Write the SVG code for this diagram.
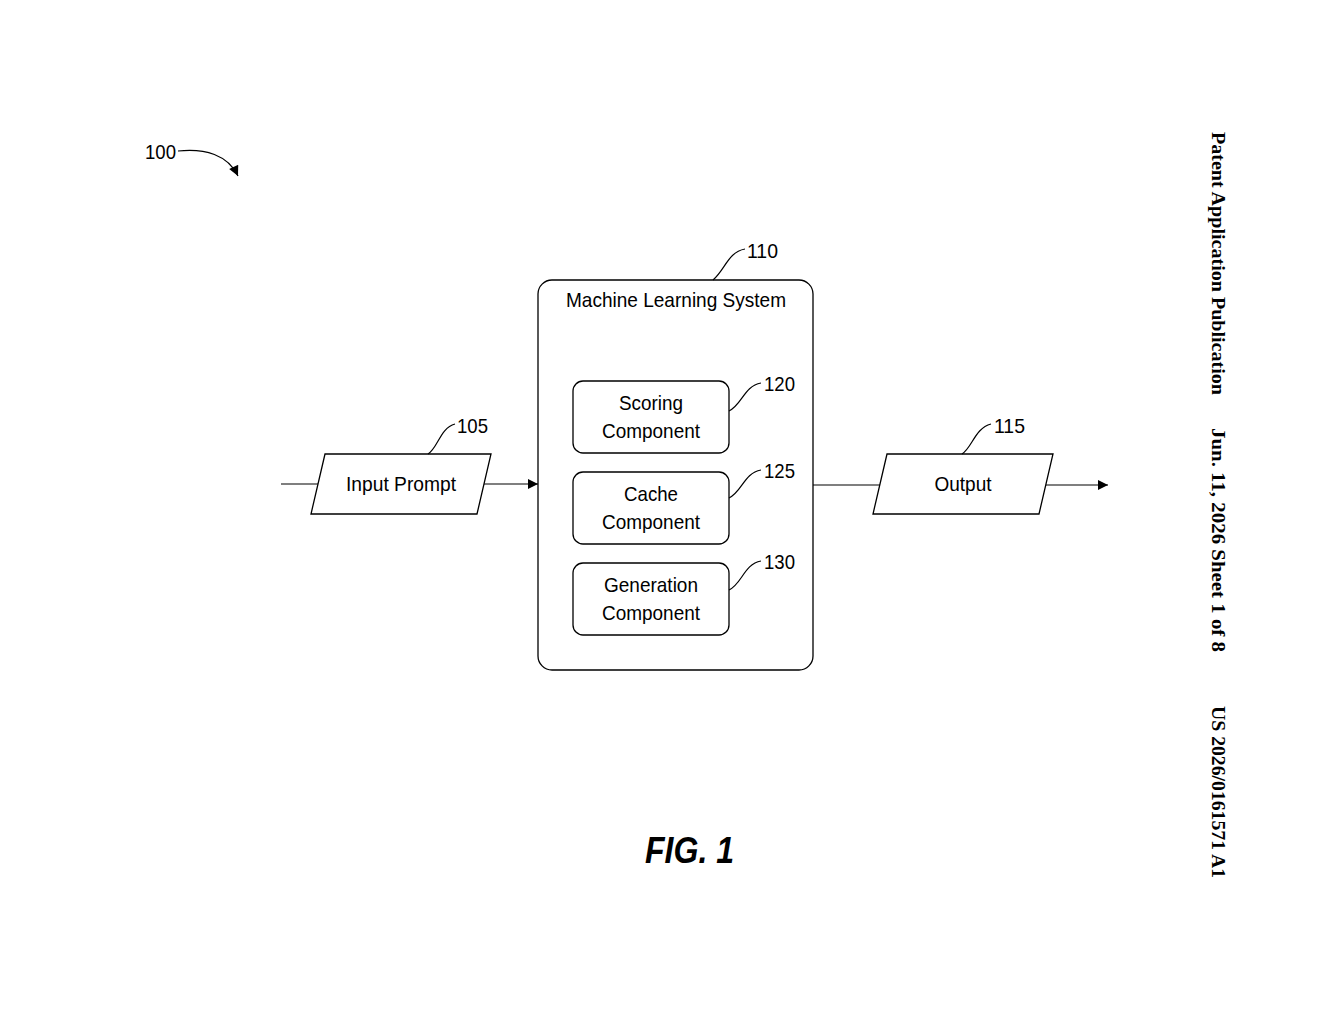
<svg xmlns="http://www.w3.org/2000/svg" width="1320" height="1024" viewBox="0 0 1320 1024">
<defs>
<marker id="ah" viewBox="0 0 10 10" refX="10" refY="5" markerWidth="16" markerHeight="10" markerUnits="userSpaceOnUse" orient="auto"><path d="M0,0 L10,5 L0,10 z" fill="#000"/></marker>
<style>
.s{fill:#fff;stroke:#000;stroke-width:1.3}
.l{fill:none;stroke:#000;stroke-width:1.2}
.t{font-family:"Liberation Sans",Arial,sans-serif;font-size:21px;fill:#000;text-anchor:middle}
.n{font-family:"Liberation Sans",Arial,sans-serif;font-size:21px;fill:#000}
.h{font-family:"Liberation Serif","Times New Roman",serif;font-size:18px;font-weight:bold;fill:#000}
</style>
</defs>
<rect width="1320" height="1024" fill="#fff"/>
<g id="ref100">
<text class="n" x="145" y="159" textLength="31" lengthAdjust="spacingAndGlyphs">100</text>
<path class="l" d="M178,151 C205,148 228,155 238,176" marker-end="url(#ah)"/>
</g>
<g id="connectors">
<line class="l" x1="281" y1="484" x2="318" y2="484"/>
<line class="l" x1="484" y1="484" x2="538" y2="484" marker-end="url(#ah)"/>
<line class="l" x1="813" y1="485" x2="880" y2="485"/>
<line class="l" x1="1046" y1="485" x2="1108" y2="485" marker-end="url(#ah)"/>
</g>
<g id="n105">
<polygon class="s" points="325,454 491,454 477,514 311,514"/>
<text class="t" x="401" y="491" textLength="110" lengthAdjust="spacingAndGlyphs">Input Prompt</text>
<path class="l" d="M428,454 C438,448 440,428 455,424"/>
<text class="n" x="457" y="433" textLength="31" lengthAdjust="spacingAndGlyphs">105</text>
</g>
<g id="n110">
<rect class="s" x="538" y="280" width="275" height="390" rx="14"/>
<text class="t" x="676" y="307" textLength="220" lengthAdjust="spacingAndGlyphs">Machine Learning System</text>
<path class="l" d="M713,280 C725,270 728,252 745,249"/>
<text class="n" x="747" y="258" textLength="31" lengthAdjust="spacingAndGlyphs">110</text>
</g>
<g id="n120">
<rect class="s" x="573" y="381" width="156" height="72" rx="10"/>
<text class="t" x="651" y="410" textLength="64" lengthAdjust="spacingAndGlyphs">Scoring</text>
<text class="t" x="651" y="438" textLength="98" lengthAdjust="spacingAndGlyphs">Component</text>
<path class="l" d="M729,411 C742,405 744,386 761,383"/>
<text class="n" x="764" y="391" textLength="31" lengthAdjust="spacingAndGlyphs">120</text>
</g>
<g id="n125">
<rect class="s" x="573" y="472" width="156" height="72" rx="10"/>
<text class="t" x="651" y="501" textLength="54" lengthAdjust="spacingAndGlyphs">Cache</text>
<text class="t" x="651" y="529" textLength="98" lengthAdjust="spacingAndGlyphs">Component</text>
<path class="l" d="M729,498 C742,492 744,473 761,470"/>
<text class="n" x="764" y="478" textLength="31" lengthAdjust="spacingAndGlyphs">125</text>
</g>
<g id="n130">
<rect class="s" x="573" y="563" width="156" height="72" rx="10"/>
<text class="t" x="651" y="592" textLength="94" lengthAdjust="spacingAndGlyphs">Generation</text>
<text class="t" x="651" y="620" textLength="98" lengthAdjust="spacingAndGlyphs">Component</text>
<path class="l" d="M729,590 C742,584 744,564 761,561"/>
<text class="n" x="764" y="569" textLength="31" lengthAdjust="spacingAndGlyphs">130</text>
</g>
<g id="n115">
<polygon class="s" points="887,454 1053,454 1039,514 873,514"/>
<text class="t" x="963" y="491" textLength="57" lengthAdjust="spacingAndGlyphs">Output</text>
<path class="l" d="M962,454 C972,448 975,428 991,424"/>
<text class="n" x="994" y="433" textLength="31" lengthAdjust="spacingAndGlyphs">115</text>
</g>
<text x="645" y="863" font-family="Liberation Sans,Arial,sans-serif" font-size="36" font-weight="bold" font-style="italic" textLength="89" lengthAdjust="spacingAndGlyphs">FIG. 1</text>
<g id="header">
<text class="h" transform="translate(1212,132) rotate(90)" textLength="263" lengthAdjust="spacingAndGlyphs">Patent Application Publication</text>
<text class="h" transform="translate(1212,428) rotate(90)" textLength="224" lengthAdjust="spacingAndGlyphs">Jun. 11, 2026  Sheet 1 of 8</text>
<text class="h" transform="translate(1212,706) rotate(90)" textLength="172" lengthAdjust="spacingAndGlyphs">US 2026/0161571 A1</text>
</g>
</svg>
